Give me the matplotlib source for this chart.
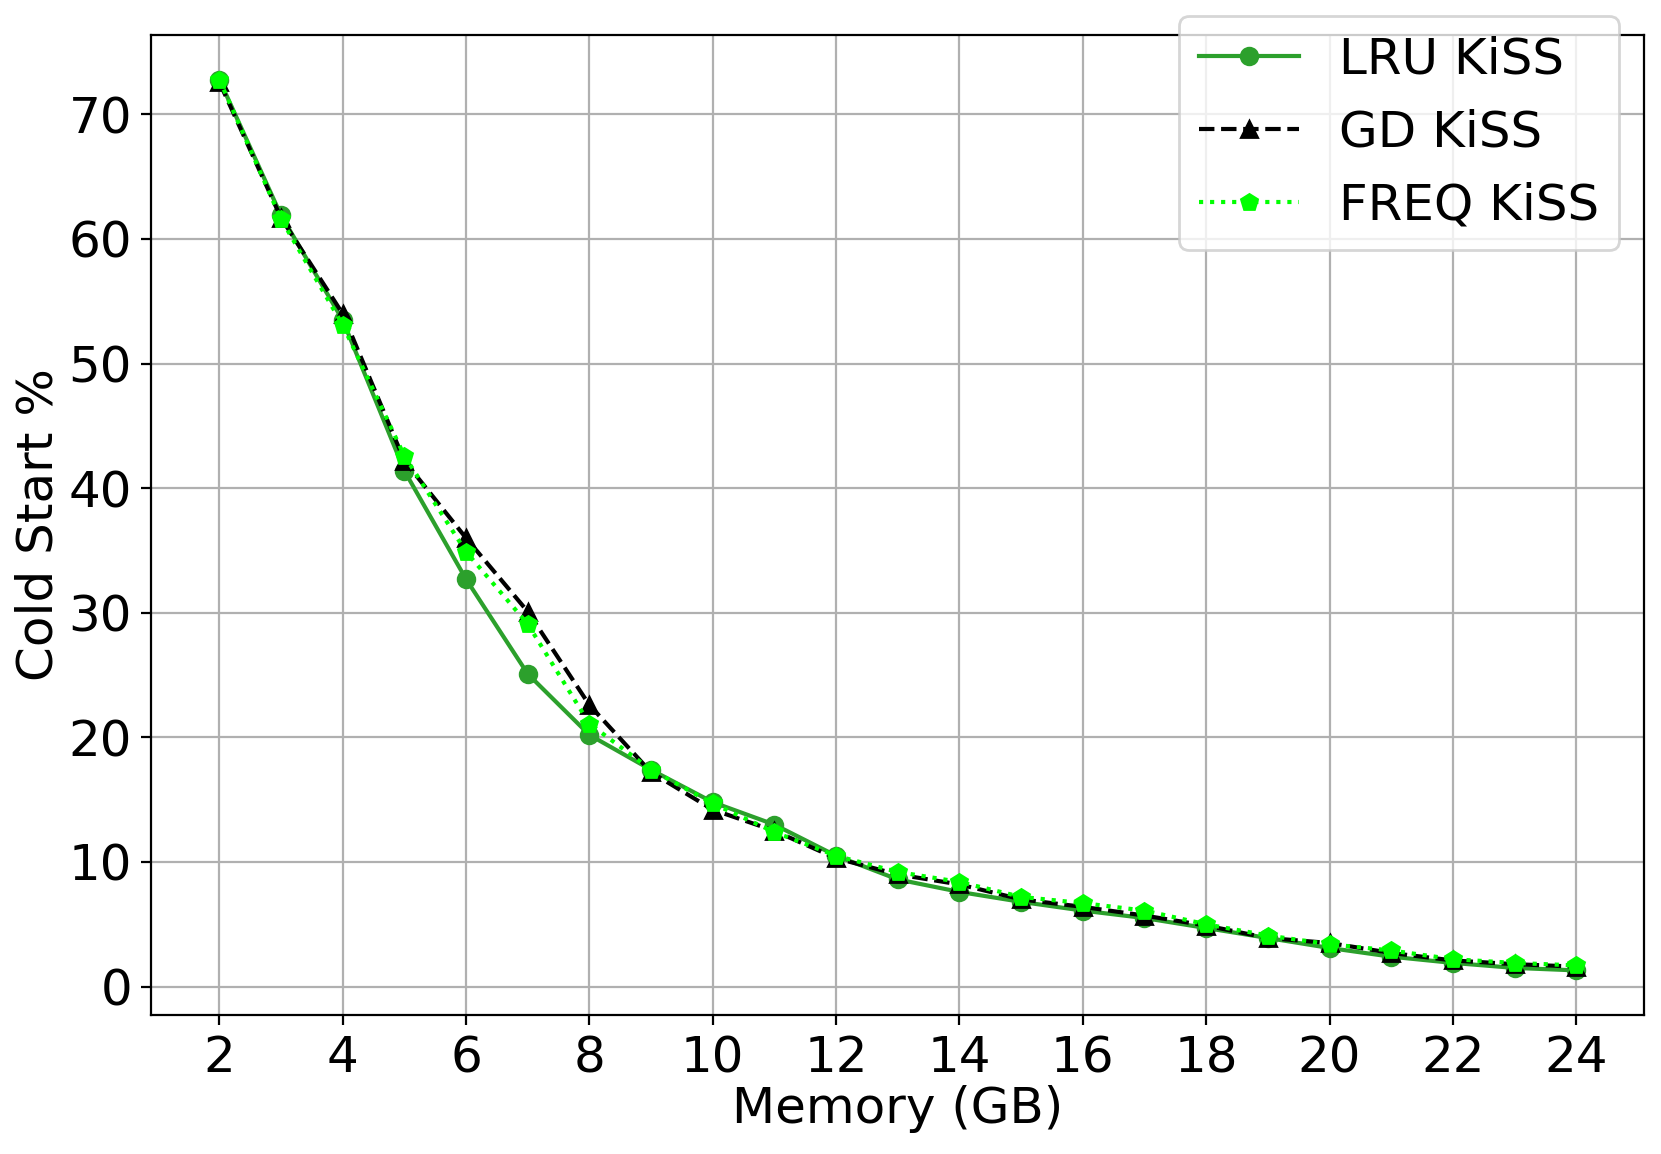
import matplotlib
matplotlib.use("Agg")
import matplotlib.pyplot as plt

memory_gb = list(range(2, 25))

lru_kiss = [72.8, 61.9, 53.5, 41.4, 32.7, 25.1, 20.2, 17.4, 14.8, 13.0, 10.5,
            8.6, 7.6, 6.8, 6.1, 5.5, 4.7, 3.9, 3.1, 2.4, 1.9, 1.5, 1.3]
gd_kiss = [72.6, 61.7, 54.0, 42.2, 36.0, 30.1, 22.6, 17.2, 14.2, 12.5, 10.3,
           9.0, 8.2, 7.0, 6.4, 5.7, 4.9, 3.9, 3.5, 2.7, 2.1, 1.8, 1.6]
freq_kiss = [72.8, 61.6, 53.1, 42.6, 34.9, 29.1, 21.1, 17.4, 14.7, 12.4, 10.5,
             9.2, 8.4, 7.2, 6.7, 6.1, 5.0, 4.1, 3.4, 2.9, 2.2, 1.9, 1.7]

fig = plt.figure(figsize=(8.305, 5.77), dpi=200)
ax = fig.add_axes([0.0912, 0.1205, 0.8986, 0.8492])

ax.plot(memory_gb, lru_kiss, color="tab:green", linestyle="-", marker="o",
        label="LRU KiSS")
ax.plot(memory_gb, gd_kiss, color="black", linestyle="--", marker="^",
        label="GD KiSS")
ax.plot(memory_gb, freq_kiss, color="lime", linestyle=":", marker="p",
        label="FREQ KiSS")

ax.set_xticks(range(2, 25, 2))
ax.set_xlabel("Memory (GB)", fontsize=18, labelpad=1)
ax.set_ylabel("Cold Start %", fontsize=18, labelpad=2)
ax.tick_params(labelsize=18)
ax.grid(True, color="#b0b0b0")

# legend pokes out above the top spine, as in the original
ax.legend(loc="upper right", bbox_to_anchor=(1.0, 1.045), fontsize=18)

fig.savefig("out.png", dpi=200)
